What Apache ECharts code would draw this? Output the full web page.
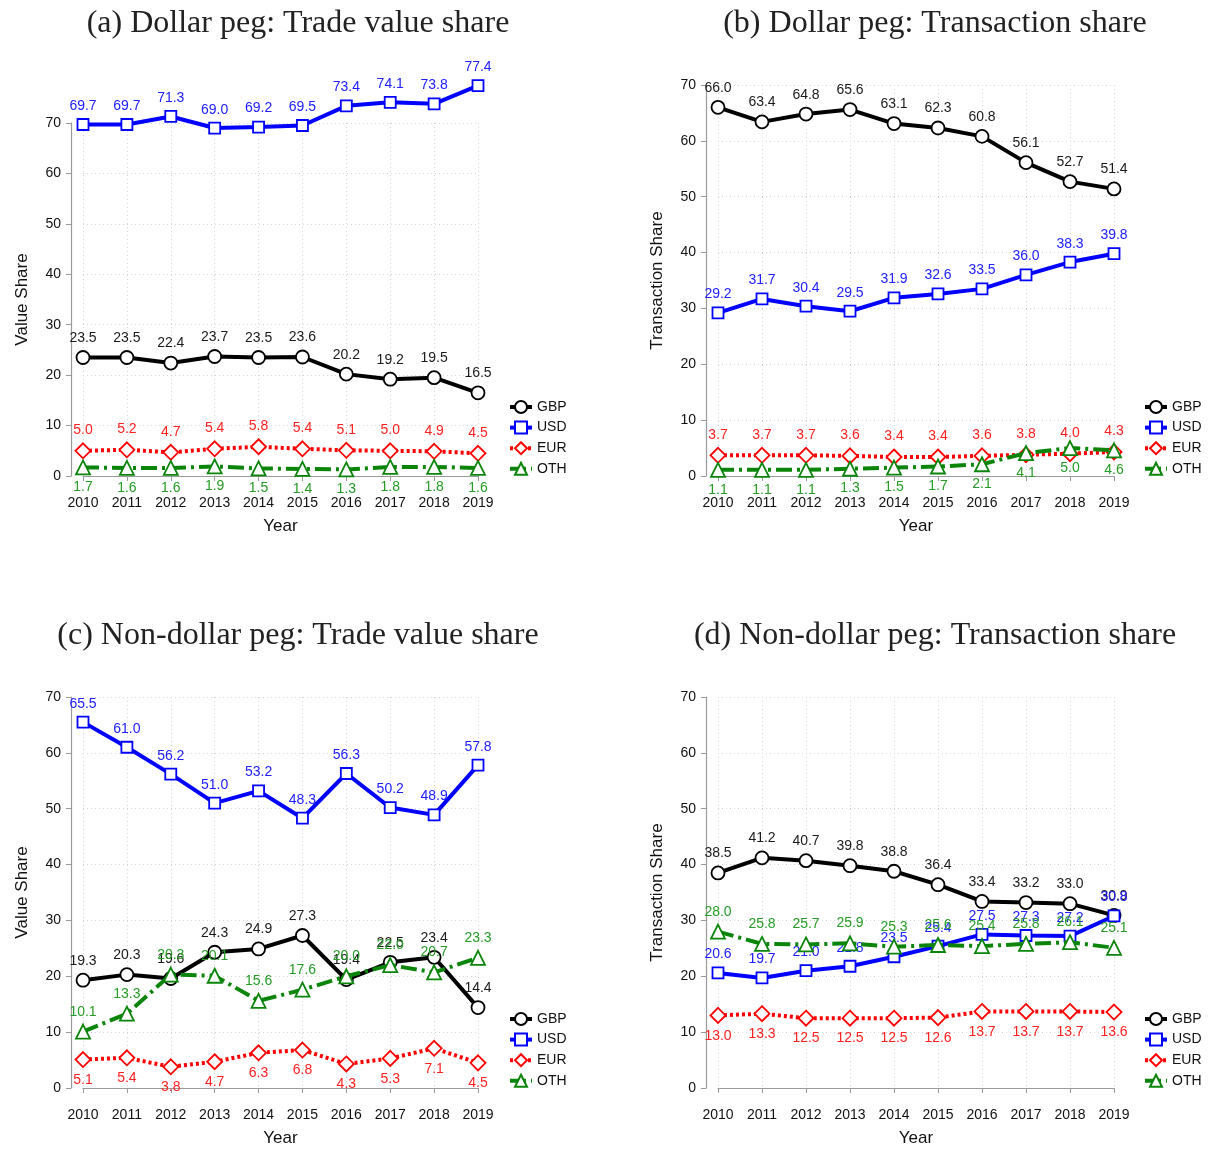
<!DOCTYPE html>
<html>
<head>
<meta charset="utf-8">
<script src="https://cdn.jsdelivr.net/npm/echarts@6/dist/echarts.min.js"></script>
<style>
html,body{margin:0;padding:0;background:#fff;}
#chart{width:1210px;height:1149px;}
</style>
</head>
<body>
<div id="chart"></div>
<script>
// ---- Data ----
const years = ['2010','2011','2012','2013','2014','2015','2016','2017','2018','2019'];
const currencies = ['GBP','USD','EUR','OTH'];
const yTicks = [0,10,20,30,40,50,60,70];

// (a) Dollar peg: Trade value share
const aGBP = [23.5,23.5,22.4,23.7,23.5,23.6,20.2,19.2,19.5,16.5];
const aUSD = [69.7,69.7,71.3,69.0,69.2,69.5,73.4,74.1,73.8,77.4];
const aEUR = [5.0,5.2,4.7,5.4,5.8,5.4,5.1,5.0,4.9,4.5];
const aOTH = [1.7,1.6,1.6,1.9,1.5,1.4,1.3,1.8,1.8,1.6];

// (b) Dollar peg: Transaction share
const bGBP = [66.0,63.4,64.8,65.6,63.1,62.3,60.8,56.1,52.7,51.4];
const bUSD = [29.2,31.7,30.4,29.5,31.9,32.6,33.5,36.0,38.3,39.8];
const bEUR = [3.7,3.7,3.7,3.6,3.4,3.4,3.6,3.8,4.0,4.3];
const bOTH = [1.1,1.1,1.1,1.3,1.5,1.7,2.1,4.1,5.0,4.6];

// (c) Non-dollar peg: Trade value share
const cGBP = [19.3,20.3,19.6,24.3,24.9,27.3,19.4,22.5,23.4,14.4];
const cUSD = [65.5,61.0,56.2,51.0,53.2,48.3,56.3,50.2,48.9,57.8];
const cEUR = [5.1,5.4,3.8,4.7,6.3,6.8,4.3,5.3,7.1,4.5];
const cOTH = [10.1,13.3,20.3,20.1,15.6,17.6,20.0,22.0,20.7,23.3];

// (d) Non-dollar peg: Transaction share
const dGBP = [38.5,41.2,40.7,39.8,38.8,36.4,33.4,33.2,33.0,30.9];
const dUSD = [20.6,19.7,21.0,21.8,23.5,25.4,27.5,27.3,27.2,30.8];
const dEUR = [13.0,13.3,12.5,12.5,12.5,12.6,13.7,13.7,13.7,13.6];
const dOTH = [28.0,25.8,25.7,25.9,25.3,25.6,25.4,25.8,26.1,25.1];

const panels = [
  {title:'(a) Dollar peg: Trade value share', yName:'Value Share', data:[aGBP,aUSD,aEUR,aOTH], pos:['top','top','top','bottom']},
  {title:'(b) Dollar peg: Transaction share', yName:'Transaction Share', data:[bGBP,bUSD,bEUR,bOTH], pos:['top','top','top','bottom']},
  {title:'(c) Non-dollar peg: Trade value share', yName:'Value Share', data:[cGBP,cUSD,cEUR,cOTH], pos:['top','top','bottom','top']},
  {title:'(d) Non-dollar peg: Transaction share', yName:'Transaction Share', data:[dGBP,dUSD,dEUR,dOTH], pos:['top','top','bottom','top']}
];

// ---- Layout & style ----
const grids = [
  {left:83, top:123, width:395, height:353},
  {left:718, top:85, width:396, height:391},
  {left:83, top:697, width:395, height:391},
  {left:718, top:697, width:396, height:391}
];
const titlePos = [{x:293,y:3},{x:930,y:3},{x:293,y:615},{x:930,y:615}];
const legendPos = [{x:503,y:395},{x:1138,y:395},{x:503,y:1007},{x:1138,y:1007}];

const styles = {
  GBP:{color:'#000000', label:'#1a1a1a', symbol:'circle', size:13, type:'solid'},
  USD:{color:'#0000ff', label:'#2020ff', symbol:'rect', size:11, type:'solid'},
  EUR:{color:'#ff0000', label:'#ff2020', symbol:'diamond', size:15, type:[3,3]},
  OTH:{color:'#0a850a', label:'#259c25', symbol:'triangle', size:14, type:[16,5,3,5]}
};
const sans = 'Liberation Sans, Arial, sans-serif';

const option = {
  animation:false,
  backgroundColor:'#ffffff',
  title: panels.map((p,i)=>({
    text:p.title, left:titlePos[i].x, top:titlePos[i].y, textAlign:'center',
    textStyle:{fontFamily:'Liberation Serif, DejaVu Serif, serif', fontSize:32, fontWeight:'normal', color:'#222'}
  })),
  legend: panels.map((p,i)=>({
    data:currencies, orient:'vertical', left:legendPos[i].x, top:legendPos[i].y,
    itemWidth:22, itemHeight:15, itemGap:6.6, selectedMode:false,
    lineStyle:{width:4},
    textStyle:{fontFamily:sans, fontSize:14, color:'#111'}
  })),
  grid: grids.map(g=>Object.assign({containLabel:false}, g)),
  xAxis: grids.map((g,i)=>({
    type:'category', data:years, boundaryGap:false, gridIndex:i, offset:11,
    name:'Year', nameLocation:'middle', nameGap:31,
    nameTextStyle:{fontFamily:sans, fontSize:17, color:'#111'},
    axisLine:{show:true, lineStyle:{color:'#9a9a9a', width:1.2}},
    axisTick:{show:true, alignWithLabel:true, length:5, lineStyle:{color:'#9a9a9a'}},
    axisLabel:{fontFamily:sans, fontSize:14, color:'#111', margin:9, interval:0},
    splitLine:{show:true, lineStyle:{color:'#d4d4d4', type:[1,3], width:1}}
  })),
  yAxis: grids.map((g,i)=>({
    type:'value', min:0, max:70, interval:10, gridIndex:i, offset:12,
    name:panels[i].yName, nameLocation:'middle', nameGap:40,
    nameTextStyle:{fontFamily:sans, fontSize:17, color:'#111'},
    axisLine:{show:true, lineStyle:{color:'#9a9a9a', width:1.2}},
    axisTick:{show:true, length:5, lineStyle:{color:'#9a9a9a'}},
    axisLabel:{fontFamily:sans, fontSize:14, color:'#111', margin:10},
    splitLine:{show:true, lineStyle:{color:'#d4d4d4', type:[1,3], width:1}}
  })),
  series: []
};

panels.forEach((p,i)=>{
  currencies.forEach((c,k)=>{
    const s = styles[c];
    option.series.push({
      type:'line', name:c, xAxisIndex:i, yAxisIndex:i, data:p.data[k],
      clip:false, z:2+k,
      symbol:s.symbol, symbolSize:s.size, showAllSymbol:true,
      lineStyle:{color:s.color, width:4, type:s.type},
      itemStyle:{color:'#ffffff', borderColor:s.color, borderWidth:1.8},
      label:{show:true, position:p.pos[k], distance:5,
        formatter:(d)=>Number(d.value).toFixed(1),
        fontFamily:sans, fontSize:14, color:s.label},
      emphasis:{disabled:true}
    });
  });
});

const chart = echarts.init(document.getElementById('chart'), null, {renderer:'canvas'});
chart.setOption(option);
</script>
</body>
</html>
